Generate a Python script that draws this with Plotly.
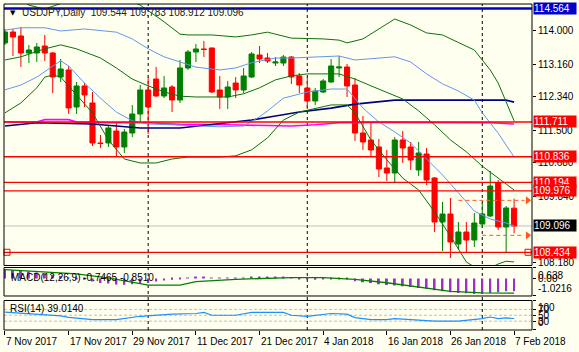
import plotly.graph_objects as go

# ---------------- data ----------------
opens = [113.698, 113.974, 113.874, 113.446, 113.446, 113.622, 113.446, 112.843, 113.019, 112.088,
         112.616, 112.189, 111.183, 111.183, 111.484, 111.082, 111.434, 111.912, 112.516, 112.792,
         112.365, 112.591, 112.264, 113.069, 113.471, 113.547, 113.572, 112.516, 112.340, 112.691,
         112.516, 112.843, 113.396, 113.320, 113.194, 113.194, 113.345, 112.868, 112.566, 112.239,
         112.465, 112.717, 113.069, 113.094, 112.641, 111.434, 111.258, 111.082, 110.554, 110.428,
         111.258, 111.082, 110.504, 110.906, 110.302, 109.196, 109.397, 108.642, 108.944, 108.743,
         109.145, 109.347, 110.177, 109.070, 109.544]
highs = [114.050, 114.050, 114.100, 113.647, 113.698, 113.899, 113.471, 113.295, 113.119, 112.717,
         112.691, 112.465, 111.384, 111.635, 111.711, 111.535, 112.138, 112.641, 112.843, 113.094,
         112.868, 112.641, 113.270, 113.522, 113.672, 113.748, 113.580, 112.868, 112.742, 112.843,
         113.069, 113.471, 113.622, 113.446, 113.345, 113.396, 113.371, 112.943, 112.817, 112.566,
         112.792, 113.295, 113.371, 113.169, 112.817, 111.862, 111.686, 111.283, 111.007, 111.333,
         111.484, 111.208, 111.208, 111.057, 110.327, 109.699, 109.799, 109.196, 109.196, 109.422,
         109.674, 110.478, 110.252, 109.598, 109.783]
lows = [113.647, 113.371, 113.094, 113.194, 113.220, 113.245, 112.440, 112.717, 111.912, 111.912,
        112.088, 111.107, 111.057, 111.082, 110.830, 110.931, 111.333, 111.711, 111.409, 112.340,
        112.314, 111.962, 112.189, 113.019, 113.220, 113.345, 112.440, 112.038, 112.038, 112.314,
        112.440, 112.817, 113.194, 113.194, 113.119, 113.119, 112.666, 112.440, 112.038, 112.138,
        112.440, 112.691, 112.843, 112.340, 111.233, 111.007, 110.830, 110.327, 110.227, 110.177,
        110.680, 110.504, 110.353, 110.126, 108.944, 108.466, 108.290, 108.492, 108.416, 108.567,
        109.045, 109.321, 108.995, 108.441, 108.912]
closes = [113.974, 113.848, 113.446, 113.522, 113.597, 113.446, 112.843, 113.044, 112.063, 112.616,
          112.390, 111.183, 111.170, 111.560, 111.082, 111.459, 111.912, 112.516, 112.088, 112.365,
          112.566, 112.264, 113.069, 113.471, 113.547, 113.534, 112.465, 112.340, 112.591, 112.516,
          112.868, 113.421, 113.295, 113.245, 113.220, 113.345, 112.843, 112.641, 112.239, 112.490,
          112.742, 113.119, 113.094, 112.616, 111.434, 111.208, 111.007, 110.529, 110.428, 111.258,
          111.057, 110.755, 110.931, 110.252, 109.196, 109.397, 108.693, 108.944, 108.743, 109.171,
          109.397, 110.101, 109.070, 109.548, 109.096]
bars = list(range(len(opens)))

tick_bars = [0, 8, 16, 24, 32, 40, 48, 56, 64]
tick_labels = ["7 Nov 2017", "17 Nov 2017", "29 Nov 2017", "11 Dec 2017", "21 Dec 2017",
               "4 Jan 2018", "16 Jan 2018", "26 Jan 2018", "7 Feb 2018"]
month_start_bars = [18, 38, 60]

price_ticks = [114.000, 113.160, 112.340, 111.500, 110.680, 109.840, 108.180]
level_blue = 114.564
levels_red = [111.711, 110.836, 110.194, 109.976, 108.434]
bid_price = 109.096
level_marker_bars = [0.25, 65.75]
orange_levels = [109.74, 108.86]
orange_start_bars = [57, 60]
orange_end_bar = 65.7

# Bollinger-style bands
up2_x = [0, 3, 5, 7, 9, 11, 14, 17, 20, 22, 23, 26, 29, 31, 33, 36, 40, 42, 43, 45, 47, 49, 51, 53, 55, 57, 59, 60, 61, 62, 63, 64]
up2_y = [115.03, 114.65, 114.55, 114.70, 114.83, 114.70, 114.90, 114.65, 114.23, 113.92, 113.90, 113.90, 113.85, 113.90,
         113.97, 113.82, 113.80, 113.77, 113.70, 113.80, 114.05, 114.30, 114.15, 113.95, 113.90, 113.72, 113.52,
         113.27, 113.02, 112.69, 112.19, 111.74]
mid_x = [0, 2, 5, 7, 9, 12, 14, 16, 18, 20, 22, 24, 28, 30, 32, 34, 36, 38, 42, 44, 46, 48, 50, 52, 54, 56, 58, 60, 62, 64]
mid_y = [113.27, 113.35, 113.55, 113.65, 113.55, 113.32, 113.07, 112.79, 112.62, 112.465, 112.36, 112.34, 112.34,
         112.42, 112.57, 112.77, 112.87, 112.92, 112.92, 112.79, 112.62, 112.465, 112.29, 111.99, 111.64, 111.26,
         110.96, 110.60, 110.30, 110.00]
lo2_x = [0, 2, 4, 5, 6, 7, 9, 11, 13, 15, 17, 19, 21, 23, 27, 29, 31, 33, 35, 37, 41, 43, 44, 46, 48, 50, 52, 54, 56, 58, 60, 62, 63, 64]
lo2_y = [111.94, 112.19, 112.57, 112.84, 112.89, 112.84, 112.39, 111.94, 111.26, 110.78, 110.68, 110.68, 110.78,
         110.83, 110.83, 110.86, 111.01, 111.31, 111.76, 111.96, 112.14, 112.14, 111.94, 111.26, 110.76, 110.30,
         110.00, 109.45, 108.84, 108.19, 107.94, 108.14, 108.21, 108.19]
up1_x = [0, 2, 5, 7, 10, 14, 16, 18, 20, 22, 24, 27, 29, 31, 34, 36, 41, 42, 44, 46, 49, 51, 53, 55, 57, 59, 60, 62, 64]
up1_y = [114.02, 114.08, 114.08, 114.00, 114.05, 113.97, 113.80, 113.55, 113.35, 113.22, 113.09, 113.02, 113.07,
         113.20, 113.32, 113.32, 113.35, 113.37, 113.27, 113.30, 113.35, 113.22, 112.92, 112.67, 112.49, 112.26,
         111.94, 111.43, 110.83]
lo1_x = [0, 2, 4, 7, 8, 10, 12, 14, 16, 18, 21, 24, 27, 30, 32, 33, 35, 38, 41, 43, 45, 47, 49, 51, 53, 55, 57, 59, 61, 63, 64]
lo1_y = [112.52, 112.64, 112.84, 113.25, 113.12, 112.69, 112.31, 111.96, 111.74, 111.66, 111.64, 111.61, 111.59,
         111.61, 111.84, 111.99, 112.31, 112.465, 112.54, 112.54, 112.06, 111.71, 111.46, 111.18, 110.78, 110.38,
         109.93, 109.47, 109.27, 109.17, 109.10]
navy_x = [0, 4, 11, 14, 17, 22, 28, 31, 34, 37, 41, 44, 49, 55, 60, 63, 64]
navy_y = [111.61, 111.69, 111.66, 111.61, 111.56, 111.56, 111.69, 111.76, 111.86, 111.96, 112.06, 112.16, 112.26,
          112.26, 112.26, 112.26, 112.21]
mag_x = [0, 4, 5, 8, 9, 13, 18, 22, 28, 33, 36, 39, 42, 46, 52, 61, 64]
mag_y = [111.71, 111.71, 111.77, 111.77, 111.71, 111.69, 111.69, 111.65, 111.64, 111.61, 111.61, 111.64, 111.69,
         111.70, 111.69, 111.69, 111.66]

# MACD
macd_main = [0.55, 0.50, 0.45, 0.40, 0.35, 0.30, 0.22, 0.15, 0.05, -0.02,
             -0.08, -0.18, -0.26, -0.30, -0.35, -0.36, -0.33, -0.30, -0.27, -0.18,
             -0.12, -0.08, -0.03, 0.03, 0.06, 0.09, 0.05, 0.03, 0.02, 0.02,
             0.03, 0.06, 0.08, 0.09, 0.08, 0.06, 0.02, -0.03, -0.06, -0.07,
             -0.06, -0.03, -0.02, -0.06, -0.16, -0.22, -0.27, -0.33, -0.38, -0.41,
             -0.45, -0.50, -0.55, -0.60, -0.68, -0.74, -0.80, -0.84, -0.86, -0.90,
             -0.90, -0.84, -0.80, -0.75, -0.7465]
sig_x = [0, 4, 9, 13, 18, 22, 24, 29, 36, 40, 44, 48, 52, 56, 60, 64]
sig_y = [0.51, 0.41, 0.27, 0.03, -0.39, -0.39, -0.19, -0.05, 0.05, 0.05, -0.05, -0.25, -0.49, -0.75, -0.84, -0.851]
macd_max, macd_min = 0.638, -1.0216

# RSI
rsi_x = [0, 3, 7, 8, 11, 14, 16, 17, 21, 24, 25, 26, 29, 31, 35, 36, 38, 41, 43, 44, 46, 48, 49, 51, 54, 57, 59, 60, 61, 62, 63, 64]
rsi_y = [60.5, 56, 48, 43, 35, 35, 42, 46.5, 53.5, 56, 59.5, 50, 50, 59.5, 59.5, 50, 46.5, 56, 53.5, 42, 35, 35, 38.5,
         35, 30, 30, 35, 38.5, 44, 38.5, 41, 39.014]
rsi_levels = [70, 50, 30]

# ---------------- styling ----------------
BG = "#FFFFF0"
FONT = "Liberation Sans"
GREEN = "#008000"
RED = "#FF0000"
BAND_GREEN = "#0B700B"
BAND_BLUE = "#6495ED"

fig = go.Figure()

def line(x, y, color, width=1, axis="y"):
    fig.add_trace(go.Scatter(x=x, y=y, mode="lines", line=dict(color=color, width=width),
                             yaxis=axis, xaxis="x", hoverinfo="skip", showlegend=False))

line(mag_x, mag_y, "#FF00FF", 1.6)
line(navy_x, navy_y, "#000080", 1.6)
line(up2_x, up2_y, BAND_GREEN)
line(mid_x, mid_y, BAND_GREEN)
line(lo2_x, lo2_y, BAND_GREEN)
line(up1_x, up1_y, BAND_BLUE)
line(lo1_x, lo1_y, BAND_BLUE)

fig.add_trace(go.Candlestick(
    x=bars, open=opens, high=highs, low=lows, close=closes,
    increasing=dict(line=dict(color=GREEN, width=1), fillcolor=GREEN),
    decreasing=dict(line=dict(color=RED, width=1), fillcolor=RED),
    whiskerwidth=0, xaxis="x", yaxis="y", showlegend=False, hoverinfo="skip"))

# orange dashed arrows
for lvl, st in zip(orange_levels, orange_start_bars):
    fig.add_trace(go.Scatter(x=[st, orange_end_bar - 0.4], y=[lvl, lvl], mode="lines",
                             line=dict(color="#FF5A1E", width=1, dash="4px,3px"),
                             yaxis="y", xaxis="x", hoverinfo="skip", showlegend=False))
fig.add_trace(go.Scatter(x=[orange_end_bar] * len(orange_levels), y=orange_levels, mode="markers",
                         marker=dict(symbol="triangle-right", size=7, color="#FF5A1E"),
                         yaxis="y", xaxis="x", hoverinfo="skip", showlegend=False, cliponaxis=False))
fig.add_trace(go.Scatter(x=level_marker_bars, y=[levels_red[-1]] * 2, mode="markers",
                         marker=dict(symbol="square-open", size=6, color=RED, line=dict(width=1, color=RED)),
                         yaxis="y", xaxis="x", hoverinfo="skip", showlegend=False, cliponaxis=False))

# MACD
fig.add_trace(go.Bar(x=bars, y=macd_main, width=0.25, marker=dict(color="#9932CC", line=dict(width=0)),
                     yaxis="y2", xaxis="x", hoverinfo="skip", showlegend=False))
line(sig_x, sig_y, GREEN, 1.3, "y2")

# RSI
line(rsi_x, rsi_y, "#1E90FF", 1.2, "y3")

shapes = []
# level lines
shapes.append(dict(type="line", xref="paper", x0=0, x1=1, yref="y", y0=bid_price, y1=bid_price,
                   line=dict(color="#C0C0C0", width=1), layer="below"))
for lvl in levels_red:
    shapes.append(dict(type="line", xref="paper", x0=0, x1=1, yref="y", y0=lvl, y1=lvl,
                       line=dict(color=RED, width=1.3), layer="above"))
shapes.append(dict(type="line", xref="paper", x0=0, x1=1, yref="y", y0=level_blue, y1=level_blue,
                   line=dict(color="#0000C0", width=2.5), layer="above"))
for lv in rsi_levels:
    shapes.append(dict(type="line", xref="paper", x0=0, x1=1, yref="y3", y0=lv, y1=lv,
                       line=dict(color="#BEBEBE", width=1, dash="3px,2px"), layer="below"))
# month separators
for b in month_start_bars:
    shapes.append(dict(type="line", xref="x", x0=b, x1=b, yref="paper", y0=0, y1=1,
                       line=dict(color="black", width=1, dash="3px,3px"), layer="below"))
# panel frames
for ax in ["y", "y2", "y3"]:
    shapes.append(dict(type="rect", xref="paper", x0=0, x1=1, yref=ax + " domain", y0=0, y1=1,
                       line=dict(color="black", width=1), fillcolor="rgba(0,0,0,0)", layer="above"))

annotations = []
# right colored price labels
right_labels = [(level_blue, "#0000CC")] + [(v, RED) for v in levels_red] + [(bid_price, "black")]
for v, col in right_labels:
    annotations.append(dict(xref="paper", x=1, xanchor="left", xshift=1, yref="y", y=v,
                            text=f"{v:.3f}", showarrow=False, bgcolor=col, borderpad=0,
                            width=42, align="left", font=dict(family=FONT, size=10, color="white")))
# macd labels
for v, txt, anc in [(macd_max, "0.638", "top"), (0, "0.00", "middle"), (macd_min, "-1.0216", "bottom")]:
    annotations.append(dict(xref="paper", x=1, xanchor="left", xshift=4, yref="y2", y=v, yanchor=anc,
                            text=txt, showarrow=False, font=dict(family=FONT, size=10, color="black")))
for v, anc in [(100, "top"), (70, "middle"), (50, "middle"), (30, "middle"), (0, "bottom")]:
    annotations.append(dict(xref="paper", x=1, xanchor="left", xshift=4, yref="y3", y=v, yanchor=anc,
                            text=str(v), showarrow=False, font=dict(family=FONT, size=10, color="black")))
# x labels
for b, t in zip(tick_bars, tick_labels):
    annotations.append(dict(xref="x", x=b, xanchor="left", xshift=-1, yref="paper", y=0, yanchor="top",
                            yshift=-4, text=t, showarrow=False,
                            font=dict(family=FONT, size=10, color="black")))
# panel titles
annotations.append(dict(xref="paper", x=0.008, xanchor="left", yref="y domain", y=0.966, yanchor="middle",
                        text="▼", showarrow=False, font=dict(family="DejaVu Sans", size=7, color="black")))
annotations.append(dict(xref="paper", x=0.030, xanchor="left", yref="y domain", y=0.966, yanchor="middle",
                        text="USDJPY,Daily  109.544 109.783 108.912 109.096", showarrow=False,
                        font=dict(family=FONT, size=10, color="#202020")))
annotations.append(dict(xref="paper", x=0.010, xanchor="left", yref="y2 domain", y=0.66, yanchor="middle",
                        text="MACD(12,26,9) -0.7465 -0.8510", showarrow=False,
                        font=dict(family=FONT, size=10, color="black")))
annotations.append(dict(xref="paper", x=0.008, xanchor="left", yref="y3 domain", y=0.72, yanchor="middle",
                        text="RSI(14) 39.0140", showarrow=False,
                        font=dict(family=FONT, size=10, color="black")))

fig.update_layout(
    width=579, height=352,
    margin=dict(l=4, r=44, t=4, b=22),
    paper_bgcolor=BG, plot_bgcolor=BG,
    showlegend=False, barmode="overlay",
    boxgap=0.2, boxgroupgap=0.2,
    font=dict(family=FONT, size=10, color="black"),
    xaxis=dict(domain=[0, 1], range=[-0.125, 66.25], anchor="y3", showgrid=False, zeroline=False,
               showline=False, ticks="outside", ticklen=4, tickcolor="black", tickvals=tick_bars,
               showticklabels=False, rangeslider=dict(visible=False), fixedrange=True),
    yaxis=dict(domain=[0.1979, 1], range=[108.102, 114.678], side="right", anchor="x",
               tickvals=price_ticks, ticktext=[f"{p:.3f}" for p in price_ticks],
               ticks="outside", ticklen=3, tickcolor="black", showgrid=False, zeroline=False,
               tickfont=dict(family=FONT, size=10, color="black")),
    yaxis2=dict(domain=[0.1043, 0.1917], range=[macd_min, macd_max], side="right", anchor="x",
                tickvals=[macd_max, 0, macd_min], showticklabels=False, ticks="outside", ticklen=3,
                tickcolor="black", showgrid=False, zeroline=False),
    yaxis3=dict(domain=[0, 0.0905], range=[0, 100], side="right", anchor="x",
                tickvals=[100, 70, 50, 30, 0], showticklabels=False, ticks="outside", ticklen=3,
                tickcolor="black", showgrid=False, zeroline=False),
    shapes=shapes, annotations=annotations,
)

fig.write_html("out.html")
